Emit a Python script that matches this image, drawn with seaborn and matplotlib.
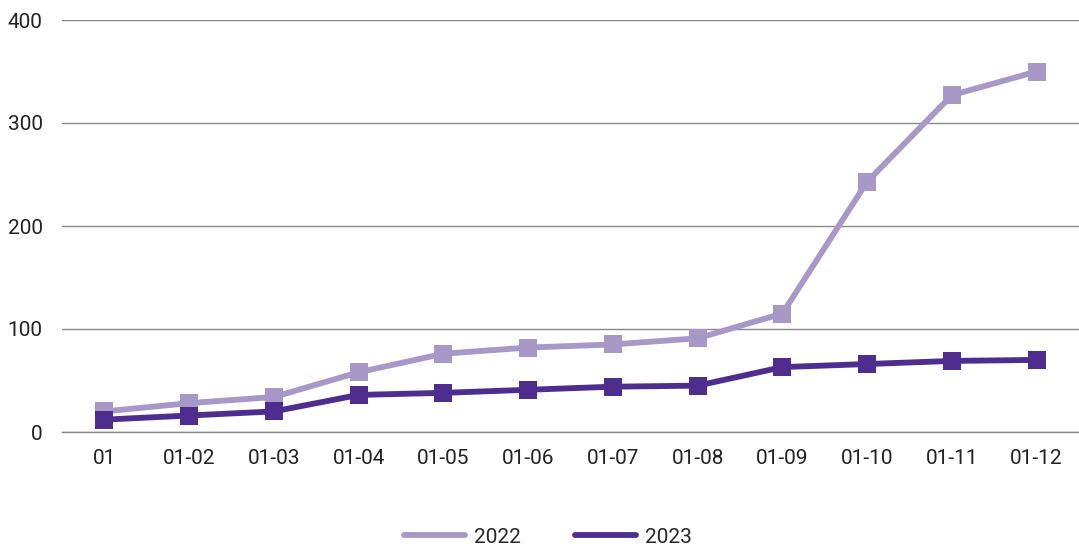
import matplotlib
matplotlib.use("Agg")
import matplotlib.pyplot as plt
import numpy as np
import pandas as pd
import seaborn as sns

# data
months = ["01", "01-02", "01-03", "01-04", "01-05", "01-06",
          "01-07", "01-08", "01-09", "01-10", "01-11", "01-12"]
vals_2022 = [20, 28, 34, 58, 76, 82, 85, 91, 115, 243, 327, 350]
vals_2023 = [12, 16, 20, 36, 38, 41, 44, 45, 63, 66, 69, 70]

df = pd.DataFrame({
    "month": months * 2,
    "value": vals_2022 + vals_2023,
    "year": ["2022"] * len(months) + ["2023"] * len(months),
})
df["pos"] = df["month"].map({m: i for i, m in enumerate(months)})

sns.set_style("white")
plt.rcParams["font.family"] = ["Roboto", "DejaVu Sans"]

palette = {"2022": "#a898c8", "2023": "#4f2d8f"}

fig = plt.figure(figsize=(10.79, 5.46), dpi=100)
ax = fig.add_axes([62 / 1079, 1 - 432 / 546, 1 - 62 / 1079, 412 / 546])

sns.lineplot(data=df, x="pos", y="value", hue="year", palette=palette,
             marker="s", markersize=12.5, markeredgewidth=0, linewidth=4.2, ax=ax)

ax.set_xlim(-0.5, len(months) - 0.5)
ax.set_ylim(0, 400)
ax.set_yticks([0, 100, 200, 300, 400])
ax.set_xticks(range(len(months)))
ax.set_xticklabels(months)
ax.set_xticks(np.arange(-0.5, len(months)), minor=True)
ax.tick_params(axis="x", which="major", length=0, pad=12, labelsize=15, colors="#222222")
ax.tick_params(axis="x", which="minor", length=10, width=1, color="#888888", direction="out")
ax.tick_params(axis="y", length=0, pad=14, labelsize=15, colors="#222222")
ax.yaxis.grid(True, color="#888888", linewidth=1)
ax.set_axisbelow(True)
for s in ["top", "right", "left"]:
    ax.spines[s].set_visible(False)
ax.spines["bottom"].set_color("#888888")
ax.spines["bottom"].set_linewidth(1)
ax.set_xlabel("")
ax.set_ylabel("")

handles, labels = ax.get_legend_handles_labels()
for h in handles:
    h.set_marker("")
    h.set_solid_capstyle("round")
ax.legend(handles, labels, loc="center", bbox_to_anchor=(0.478, -0.255),
          ncol=2, frameon=False, fontsize=15, handlelength=2.9,
          columnspacing=2.6, handletextpad=0.45)

fig.savefig("out.png", dpi=100)
